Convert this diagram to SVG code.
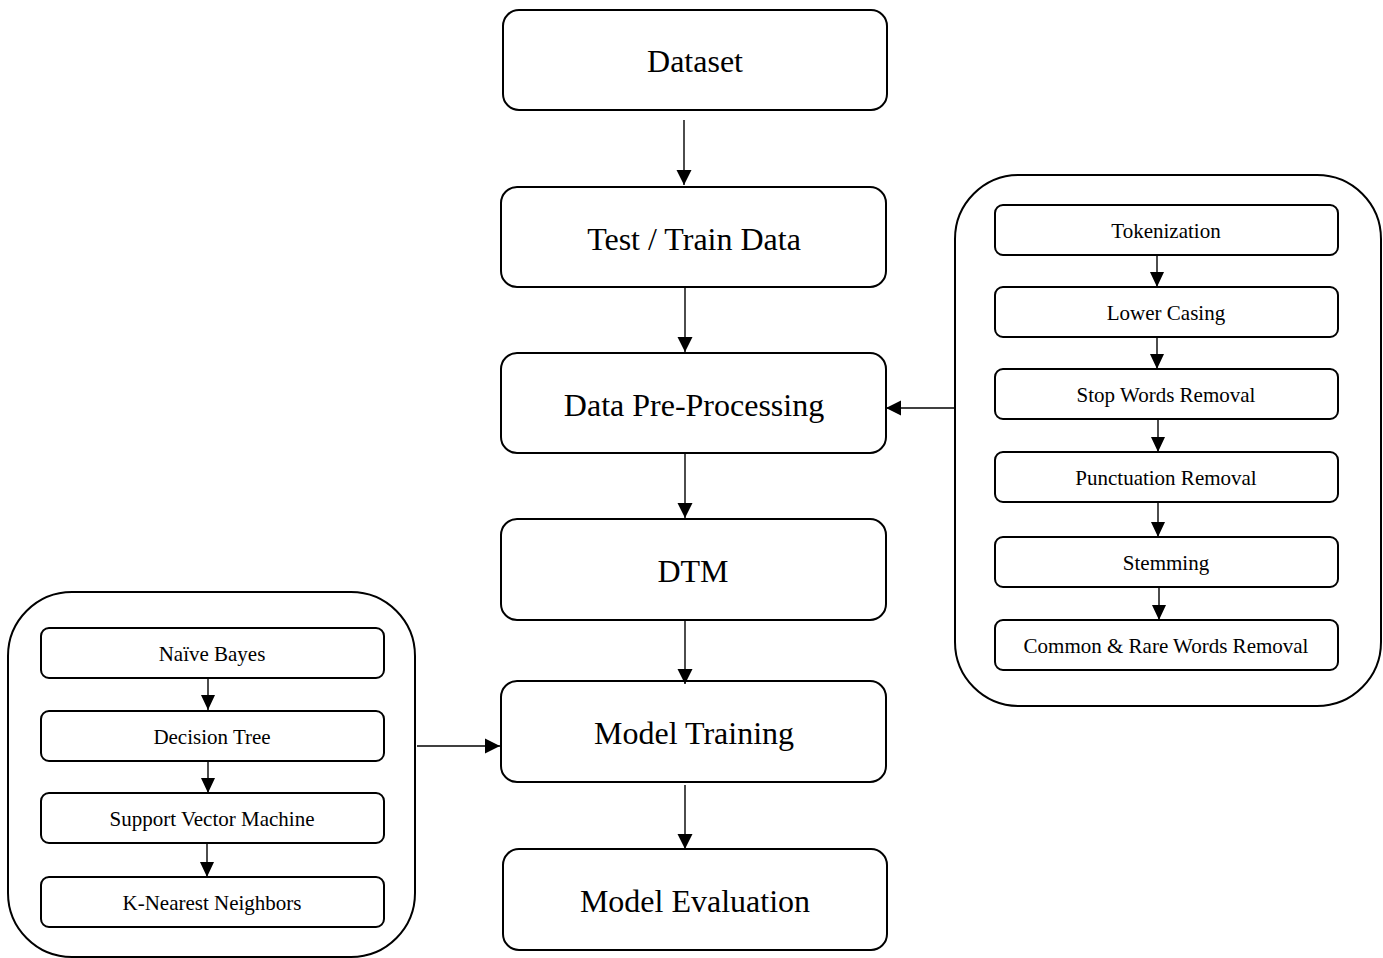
<svg xmlns="http://www.w3.org/2000/svg" width="1383" height="958" viewBox="0 0 1383 958">
<defs>
<marker id="big" markerUnits="userSpaceOnUse" markerWidth="16" markerHeight="16" viewBox="0 0 16 16" refX="15" refY="8" orient="auto">
<path d="M0,0.5 L15,8 L0,15.5 Z" fill="#000"/>
</marker>
<marker id="small" markerUnits="userSpaceOnUse" markerWidth="16" markerHeight="16" viewBox="0 0 16 16" refX="15" refY="8" orient="auto">
<path d="M0,1 L15,8 L0,15 Z" fill="#000"/>
</marker>
<style>
.main{fill:#fff;stroke:#000;stroke-width:2}
.panel{fill:#fff;stroke:#000;stroke-width:2}
.sub{fill:#fff;stroke:#000;stroke-width:2}
.big{font-family:"Liberation Serif","Times New Roman",serif;font-size:32px;fill:#000;text-anchor:middle}
.sm{font-family:"Liberation Serif","Times New Roman",serif;font-size:21px;fill:#000;text-anchor:middle}
.c{stroke:#000;stroke-width:1.4;fill:none}
.cb{marker-end:url(#big)}
.cs{marker-end:url(#small)}
</style>
</defs>
<rect width="1383" height="958" fill="#fff"/>

<g id="preproc-panel">
<rect class="panel" x="955" y="175" width="426" height="531" rx="64" ry="64"/>
<g id="tokenization"><rect class="sub" x="995" y="205" width="343" height="50" rx="8"/><text class="sm" x="1166" y="238">Tokenization</text></g>
<g id="lower-casing"><rect class="sub" x="995" y="287" width="343" height="50" rx="8"/><text class="sm" x="1166" y="320">Lower Casing</text></g>
<g id="stop-words"><rect class="sub" x="995" y="369" width="343" height="50" rx="8"/><text class="sm" x="1166" y="402">Stop Words Removal</text></g>
<g id="punctuation"><rect class="sub" x="995" y="452" width="343" height="50" rx="8"/><text class="sm" x="1166" y="485">Punctuation Removal</text></g>
<g id="stemming"><rect class="sub" x="995" y="537" width="343" height="50" rx="8"/><text class="sm" x="1166" y="570">Stemming</text></g>
<g id="common-rare"><rect class="sub" x="995" y="620" width="343" height="50" rx="8"/><text class="sm" x="1166" y="653">Common &amp; Rare Words Removal</text></g>
</g>

<g id="model-panel">
<rect class="panel" x="8" y="592" width="407" height="365" rx="64" ry="64"/>
<g id="naive-bayes"><rect class="sub" x="41" y="628" width="343" height="50" rx="8"/><text class="sm" x="212" y="661">Naïve Bayes</text></g>
<g id="decision-tree"><rect class="sub" x="41" y="711" width="343" height="50" rx="8"/><text class="sm" x="212" y="744">Decision Tree</text></g>
<g id="svm"><rect class="sub" x="41" y="793" width="343" height="50" rx="8"/><text class="sm" x="212" y="826">Support Vector Machine</text></g>
<g id="knn"><rect class="sub" x="41" y="877" width="343" height="50" rx="8"/><text class="sm" x="212" y="910">K-Nearest Neighbors</text></g>
</g>

<g id="dataset"><rect class="main" x="503" y="10" width="384" height="100" rx="16"/><text class="big" x="695" y="72">Dataset</text></g>
<g id="test-train"><rect class="main" x="501" y="187" width="385" height="100" rx="16"/><text class="big" x="694" y="250">Test / Train Data</text></g>
<g id="data-preprocessing"><rect class="main" x="501" y="353" width="385" height="100" rx="16"/><text class="big" x="694" y="416">Data Pre-Processing</text></g>
<g id="dtm"><rect class="main" x="501" y="519" width="385" height="101" rx="16"/><text class="big" x="693" y="582">DTM</text></g>
<g id="model-training"><rect class="main" x="501" y="681" width="385" height="101" rx="16"/><text class="big" x="694" y="744">Model Training</text></g>
<g id="model-evaluation"><rect class="main" x="503" y="849" width="384" height="101" rx="16"/><text class="big" x="695" y="912">Model Evaluation</text></g>

<g id="connectors">
<line class="c cb" x1="684" y1="120" x2="684" y2="185"/>
<line class="c cb" x1="685" y1="287" x2="685" y2="352"/>
<line class="c cb" x1="685" y1="453" x2="685" y2="518"/>
<line class="c cb" x1="685" y1="620" x2="685" y2="684"/>
<line class="c cb" x1="685" y1="785" x2="685" y2="849"/>
<line class="c cb" x1="955" y1="408" x2="886" y2="408"/>
<line class="c cb" x1="417" y1="746" x2="500" y2="746"/>
<line class="c cs" x1="1157" y1="255" x2="1157" y2="287"/>
<line class="c cs" x1="1157" y1="337" x2="1157" y2="369"/>
<line class="c cs" x1="1158" y1="419" x2="1158" y2="452"/>
<line class="c cs" x1="1158" y1="502" x2="1158" y2="537"/>
<line class="c cs" x1="1159" y1="587" x2="1159" y2="620"/>
<line class="c cs" x1="208" y1="678" x2="208" y2="710"/>
<line class="c cs" x1="208" y1="761" x2="208" y2="793"/>
<line class="c cs" x1="207" y1="843" x2="207" y2="877"/>
</g>
</svg>
